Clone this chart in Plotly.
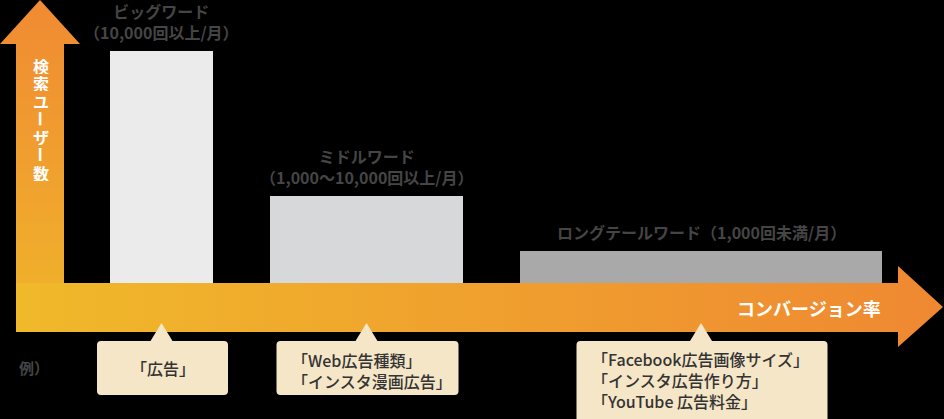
import plotly.graph_objects as go

# ---------------- data ----------------
categories = ["ビッグワード", "ミドルワード", "ロングテールワード"]
volume_notes = ["（10,000回以上/月）", "（1,000〜10,000回以上/月）", "（1,000回未満/月）"]
search_users = [232, 87, 32]            # relative number of searching users (bar height)
keyword_position = [161.5, 366.5, 701]  # position along the conversion-rate axis
keyword_breadth = [103, 193, 362]       # relative breadth of keyword variety (bar width)
example_keywords = [
    ["「広告」"],
    ["「Web広告種類」", "「インスタ漫画広告」"],
    ["「Facebook広告画像サイズ」", "「インスタ広告作り方」", "「YouTube 広告料金」"],
]
y_axis_title = "検索ユーザー数"
x_axis_title = "コンバージョン率"
example_title = "例）"
bar_colors = ["#eaebea", "#d7d8da", "#a9a9a9"]

# ---------------- figure ----------------
W, H = 944, 419
FONT = "Noto Sans CJK JP"
fig = go.Figure()

# vertical arrow (search users)
fig.add_trace(go.Scatter(
    x=[16, 64, 64, 80, 40, 0, 16, 16], y=[-49, -49, 239, 239, 283, 239, 239, -49],
    mode="lines", fill="toself", line=dict(width=0, color="rgba(0,0,0,0)"),
    fillgradient=dict(type="vertical", start=-49, stop=283,
                      colorscale=[[0, "#f0b52a"], [1, "#f08a33"]]),
    hoverinfo="skip", showlegend=False))

# horizontal arrow (conversion rate)
fig.add_trace(go.Scatter(
    x=[16, 898, 898, 943, 898, 898, 16, 16], y=[0, 0, 17, -24, -64, -49, -49, 0],
    mode="lines", fill="toself", line=dict(width=0, color="rgba(0,0,0,0)"),
    fillgradient=dict(type="horizontal", start=16, stop=943,
                      colorscale=[[0, "#f0b92a"], [1, "#ef8832"]]),
    hoverinfo="skip", showlegend=False))

# bars
fig.add_trace(go.Bar(
    x=keyword_position, y=search_users, width=keyword_breadth, base=0,
    marker=dict(color=bar_colors, line=dict(width=0)),
    hoverinfo="skip", showlegend=False))

annotations = []
# bar labels
for i, (cat, note, h, xc) in enumerate(zip(categories, volume_notes, search_users, keyword_position)):
    txt = cat + "<br>" + note if i < 2 else cat + note
    annotations.append(dict(x=xc, y=h + 6, text=txt, showarrow=False, xanchor="center",
                            yanchor="bottom", align="center", borderpad=0,
                            font=dict(family=FONT, size=16, color="#454545", weight="bold")))

# vertical axis title, character by character
for i, ch in enumerate(y_axis_title):
    annotations.append(dict(x=41, y=283 - (65 + i * 17.9), text=ch, showarrow=False,
                            xanchor="center", yanchor="middle", borderpad=0, height=17,
                            textangle=90 if ch == "ー" else 0,
                            font=dict(family=FONT, size=16, color="#ffffff", weight="bold")))

# horizontal axis title
annotations.append(dict(x=883, y=-25, text=x_axis_title, showarrow=False, xanchor="right",
                        yanchor="middle",
                        font=dict(family=FONT, size=18, color="#ffffff", weight="bold")))

# example title
annotations.append(dict(x=17, y=-84, text=example_title, showarrow=False, xanchor="left",
                        yanchor="middle",
                        font=dict(family=FONT, size=15, color="#454545", weight="bold")))

# callouts
box_w = [131, 182, 251]
shapes = []
y_top = -58


def callout_path(x0, x1, yt, yb, tx, ty, r=4, hw=11):
    return (f"M {x0 + r},{yt} L {tx - hw},{yt} L {tx},{ty} L {tx + hw},{yt} L {x1 - r},{yt} "
            f"Q {x1},{yt} {x1},{yt - r} L {x1},{yb + r} Q {x1},{yb} {x1 - r},{yb} "
            f"L {x0 + r},{yb} Q {x0},{yb} {x0},{yb + r} L {x0},{yt - r} Q {x0},{yt} {x0 + r},{yt} Z")


for i, (xc, bw, kws) in enumerate(zip(keyword_position, box_w, example_keywords)):
    x0, x1 = xc + 1 - bw / 2, xc + 1 + bw / 2
    yb = -112 if i < 2 else -150
    shapes.append(dict(type="path", xref="x", yref="y",
                       path=callout_path(x0, x1, y_top, yb, xc, -40),
                       fillcolor="#f5e6c7", line=dict(width=0), layer="above"))
    n = len(kws)
    if n == 1:
        annotations.append(dict(x=xc + 1, y=(y_top + yb) / 2, text=kws[0], showarrow=False,
                                xanchor="center", yanchor="middle",
                                font=dict(family=FONT, size=16, color="#333333", weight=500)))
    else:
        annotations.append(dict(x=x0 + 14, y=y_top - 19 - (n - 1) * 10, borderpad=0,
                                text="<br>".join(kws), showarrow=False, xanchor="left",
                                yanchor="middle", align="left",
                                font=dict(family=FONT, size=16, color="#333333", weight=500)))

fig.update_layout(
    width=W, height=H, margin=dict(l=0, r=0, t=0, b=0),
    paper_bgcolor="#000000", plot_bgcolor="#000000",
    xaxis=dict(range=[0, W], visible=False, fixedrange=True),
    yaxis=dict(range=[283 - H, 283], visible=False, fixedrange=True),
    shapes=shapes, annotations=annotations, bargap=0,
    font=dict(family=FONT),
)

fig.write_html("out.html")
